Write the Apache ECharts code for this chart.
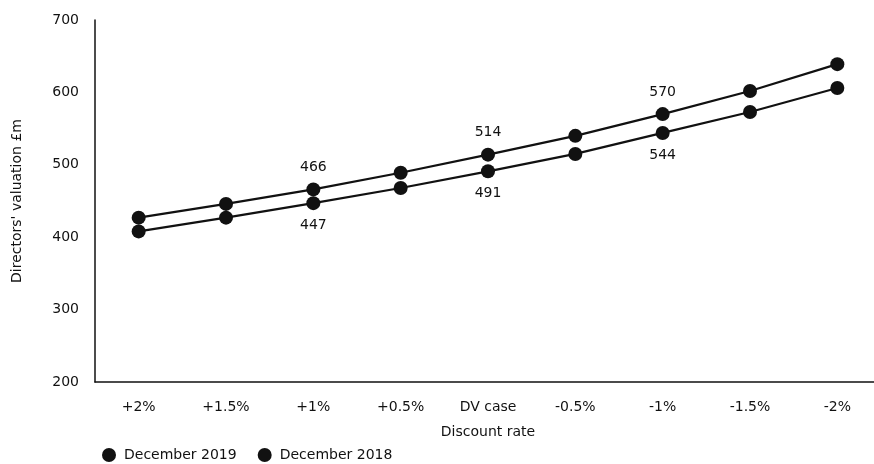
<!DOCTYPE html>
<html>
<head>
<meta charset="utf-8">
<script src="https://cdn.jsdelivr.net/npm/echarts@6/dist/echarts.min.js"></script>
<style>
  html, body { margin: 0; padding: 0; background: #fff; }
  #chart { width: 874px; height: 464px; }
</style>
</head>
<body>
<div id="chart"></div>
<script>
var categories = ['+2%', '+1.5%', '+1%', '+0.5%', 'DV case', '-0.5%', '-1%', '-1.5%', '-2%'];
var dec2019 = [427, 446, 466, 489, 514, 540, 570, 602, 639];
var dec2018 = [408, 427, 447, 468, 491, 515, 544, 573, 606];
// which points carry a value label
var labelled = [2, 4, 6];

var chart = echarts.init(document.getElementById('chart'));

function pointData(values) {
    return values.map(function (v, i) {
        return { value: v, label: { show: labelled.indexOf(i) >= 0 } };
    });
}

var font = 'DejaVu Sans, sans-serif';

var option = {
    animation: false,
    textStyle: { fontFamily: font, color: '#111' },
    grid: { left: 95, right: -7, top: 20, bottom: 82, outerBoundsMode: 'none' },
    legend: {
        left: 97,
        bottom: -3,
        icon: 'circle',
        itemWidth: 20,
        itemHeight: 14,
        itemGap: 21,
        textStyle: { fontFamily: font, fontSize: 14, color: '#111' },
        data: ['December 2019', 'December 2018']
    },
    xAxis: {
        type: 'category',
        data: categories,
        name: 'Discount rate',
        nameLocation: 'middle',
        nameGap: 43,
        nameTextStyle: { fontSize: 14, color: '#111' },
        axisLine: { lineStyle: { color: '#111', width: 1.5 } },
        axisTick: { show: false },
        axisLabel: { fontSize: 14, color: '#111', margin: 18 }
    },
    yAxis: {
        type: 'value',
        min: 200,
        max: 700,
        interval: 100,
        name: "Directors' valuation £m",
        nameLocation: 'middle',
        nameGap: 71,
        nameTextStyle: { fontSize: 14, color: '#111' },
        axisLine: { show: true, lineStyle: { color: '#111', width: 1.5 } },
        axisTick: { show: false },
        splitLine: { show: false },
        axisLabel: { fontSize: 14, color: '#111', margin: 16 }
    },
    series: [
        {
            name: 'December 2019',
            type: 'line',
            data: pointData(dec2019),
            symbol: 'circle',
            symbolSize: 14,
            itemStyle: { color: '#111' },
            lineStyle: { color: '#111', width: 2.2 },
            label: { position: 'top', distance: 8, fontSize: 14, color: '#111' }
        },
        {
            name: 'December 2018',
            type: 'line',
            data: pointData(dec2018),
            symbol: 'circle',
            symbolSize: 14,
            itemStyle: { color: '#111' },
            lineStyle: { color: '#111', width: 2.2 },
            label: { position: 'bottom', distance: 8, fontSize: 14, color: '#111' }
        }
    ]
};

chart.setOption(option);
</script>
</body>
</html>
